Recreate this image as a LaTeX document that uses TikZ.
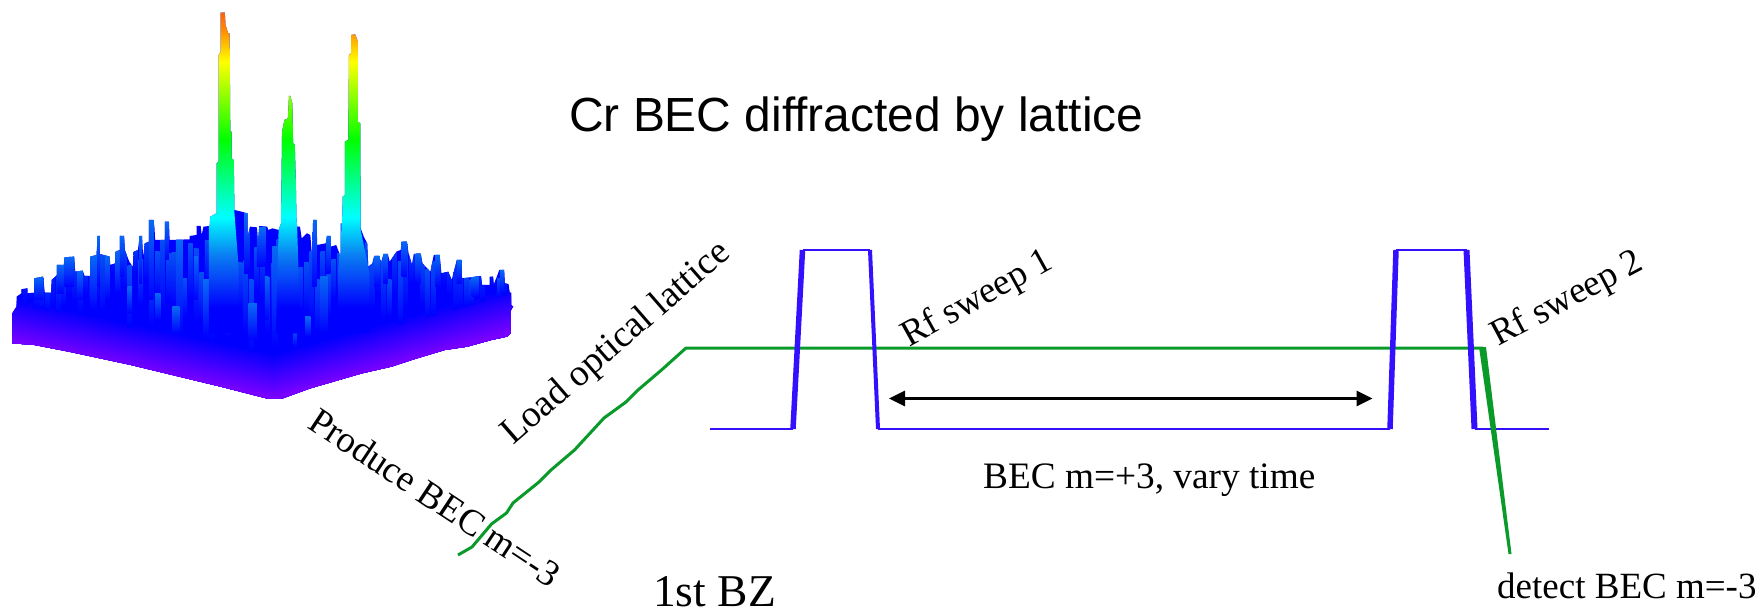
\documentclass[tikz,border=0pt]{standalone}
\usepackage{fontspec}
\setmainfont{Liberation Serif}
\newfontfamily\titlefont{Liberation Sans}
\usetikzlibrary{arrows.meta}

\definecolor{pulseblue}{HTML}{3311FF}
\definecolor{rampgreen}{HTML}{0A9A2A}
\definecolor{streakblue}{HTML}{0A7CF2}
\definecolor{midblue}{HTML}{0650F4}
\definecolor{edgepurple}{HTML}{8000FF}
\definecolor{springgreen}{HTML}{00FF96}
\definecolor{peakorange}{HTML}{FF9600}
\definecolor{tiporange}{HTML}{FF5A00}

\pgfdeclareverticalshading{peakmap}{100bp}{
  color(0bp)=(blue);
  color(29bp)=(blue);
  color(37bp)=(streakblue);
  color(43bp)=(cyan);
  color(48bp)=(springgreen);
  color(55bp)=(green);
  color(67bp)=(yellow);
  color(71.5bp)=(peakorange);
  color(75bp)=(tiporange);
  color(100bp)=(tiporange)}

\def\surfaceoutline{(36,1030) -- (36,940) -- (48,920) -- (48,890) -- (62,880) -- (62,868) -- (80,865) -- (80,880) -- (100,878) -- (100,835) -- (125,830) -- (130,878) -- (148,878) -- (150,840) -- (165,825) -- (165,795) -- (185,795) -- (187,772) -- (215,770) -- (218,815) -- (240,812) -- (245,828) -- (262,828) -- (262,770) -- (280,765) -- (283,708) -- (290,708) -- (290,762) -- (318,770) -- (320,795) -- (335,790) -- (335,755) -- (348,750) -- (348,708) -- (360,708) -- (362,750) -- (375,785) -- (385,800) -- (388,755) -- (400,750) -- (405,708) -- (412,708) -- (415,770) -- (420,730) -- (432,725) -- (432,660) -- (445,660) -- (448,682) -- (450,720) -- (478,720) -- (478,665) -- (490,665) -- (492,720) -- (550,718) -- (550,708) -- (570,705) -- (570,678) -- (582,678) -- (585,705) -- (590,680) -- (608,678) -- (610,650) -- (628,640) -- (628,490) -- (634,485) -- (634,165) -- (640,155) -- (640,38) -- (652,38) -- (654,75) -- (662,100) -- (666,100) -- (668,395) -- (672,395) -- (672,475) -- (678,480) -- (680,630) -- (700,635) -- (718,640) -- (718,710) -- (725,680) -- (745,682) -- (748,725) -- (752,678) -- (775,680) -- (778,690) -- (790,685) -- (808,690) -- (815,670) -- (818,395) -- (825,360) -- (835,355) -- (838,288) -- (842,288) -- (848,310) -- (850,430) -- (855,435) -- (858,545) -- (860,660) -- (862,680) -- (870,680) -- (875,715) -- (890,700) -- (900,705) -- (905,770) -- (908,660) -- (918,660) -- (920,735) -- (945,730) -- (948,708) -- (958,708) -- (960,740) -- (975,735) -- (988,770) -- (988,670) -- (992,670) -- (994,590) -- (1000,585) -- (1000,425) -- (1010,420) -- (1012,165) -- (1018,160) -- (1018,105) -- (1030,103) -- (1038,125) -- (1038,365) -- (1045,370) -- (1046,685) -- (1055,710) -- (1065,730) -- (1068,800) -- (1080,790) -- (1085,768) -- (1100,768) -- (1105,790) -- (1112,762) -- (1125,762) -- (1130,785) -- (1150,755) -- (1162,750) -- (1165,725) -- (1180,725) -- (1185,760) -- (1195,795) -- (1200,762) -- (1220,760) -- (1225,790) -- (1248,815) -- (1258,765) -- (1275,765) -- (1280,820) -- (1300,815) -- (1310,840) -- (1325,780) -- (1338,780) -- (1340,835) -- (1395,828) -- (1398,855) -- (1420,855) -- (1420,830) -- (1430,830) -- (1432,855) -- (1448,810) -- (1462,810) -- (1464,850) -- (1475,852) -- (1478,878) -- (1482,878) -- (1482,915) -- (1488,920) -- (1482,930) -- (1480,1000) -- (1470,1010) -- (1425,1020) -- (1355,1040) -- (1290,1050) -- (1200,1078) -- (1135,1100) -- (1050,1120) -- (900,1165) -- (815,1197) -- (780,1197) -- (640,1160) -- (520,1130) -- (380,1095) -- (200,1055) -- (100,1035) -- cycle}

\tikzset{
    pulse/.style={pulseblue, line width=2.5pt, line join=miter},
    pulseedge/.style={pulseblue, line width=5.5pt},
    ramp/.style={rampgreen, line width=3pt, line join=round},
    label/.style={inner sep=0pt, anchor=base west, font=\fontsize{37}{37}\selectfont}
}

\begin{document}
\begin{tikzpicture}[x=1pt,y=-1pt]
    \useasboundingbox (0,0) rectangle (1760,610);

    \begin{scope}[x=0.3448pt,y=-0.3333pt]
        \clip \surfaceoutline;
        \fill[blue] (0,0) rectangle (1600,1300);
        \foreach \d [evaluate=\d as \p using 100-\d/1.4] in {130,120,...,10} {
            \fill[edgepurple!\p!blue] (0,{1022-\d}) -- (795,{1197-\d}) -- (1600,{965-\d}) -- (1600,1300) -- (0,1300) -- cycle;
        }
        \pgfmathsetseed{42}
        \foreach \x in {50,66,...,1470} {
            \pgfmathsetmacro\t{700+140*rnd}
            \pgfmathsetmacro\b{min(\t+100+120*rnd,902+0.22*\x,1306-0.288*\x)}
            \shade[top color=midblue, bottom color=blue] (\x,\t) rectangle ({\x+13},\b);
        }
        \foreach \x/\w/\t/\b in {100/25/830/900, 165/20/795/880, 187/28/770/860, 225/15/812/900, 262/18/765/930, 283/7/708/860, 305/14/765/900, 335/13/755/880, 348/12/708/830, 370/12/860/940, 405/7/708/850, 432/13/660/900, 450/15/880/960, 478/12/665/780, 510/20/720/1000, 500/20/920/1000, 562/12/770/900, 590/20/840/1010, 655/15/920/1010, 708/16/640/820, 745/25/682/800, 720/25/910/1020, 768/10/830/960, 790/15/740/1040, 850/10/980/1040, 885/15/950/1010, 905/13/660/860, 930/20/830/1000, 945/13/708/820, 1015/15/930/1000, 1085/15/768/860, 1112/13/762/850, 1165/15/725/830, 1205/15/760/850, 1262/13/765/860, 1325/13/780/850, 1368/20/830/890, 1450/12/810/880} {
            \shade[top color=streakblue!85!blue, bottom color=blue] (\x,\t) rectangle ({\x+\w},\b);
        }
        \shade[shading=peakmap] (628,30) -- (680,30) -- (680,640) -- (692,800) -- (692,1000) -- (606,1000) -- (606,650) -- (628,640) -- cycle;
        \shade[shading=peakmap] (815,30) -- (862,30) -- (862,690) -- (872,1000) -- (800,1000) -- (808,690) -- cycle;
        \shade[shading=peakmap] (994,30) -- (1046,30) -- (1046,690) -- (1072,820) -- (1072,1000) -- (980,1000) -- (980,820) -- (990,690) -- cycle;
    \end{scope}

    \coordinate (rampstart) at (458,555);
    \coordinate (rampend) at (686,348);
    \coordinate (holdend) at (1483,348);
    \coordinate (detectend) at (1510,554);

    \coordinate (A) at (710,429);
    \coordinate (B) at (793,429);
    \coordinate (C) at (802.5,250);
    \coordinate (D) at (870,250);
    \coordinate (E) at (878,429);
    \coordinate (F) at (1390,429);
    \coordinate (G) at (1396,250);
    \coordinate (H) at (1466.5,250);
    \coordinate (I) at (1474.5,429);
    \coordinate (J) at (1549,429);

    \draw[ramp] (rampstart) -- (472,547) -- (491.5,524) -- (506.5,513) -- (513,503) -- (539,482) -- (551,470) -- (574.5,450) -- (604,418) -- (626,402) -- (638,390) -- (661.5,370) -- (rampend) -- (holdend);

    \draw[pulse] (A) -- (B) (C) -- (D) (E) -- (F) (G) -- (H) (I) -- (J);
    \draw[pulseedge] (B) -- (C);
    \draw[pulseedge, line width=4pt] (D) -- (E);
    \draw[pulseedge] (F) -- (G);
    \draw[pulseedge, line width=6pt] (H) -- (I);

    \fill[rampgreen] (1479,347) -- (1486,347) -- ([xshift=1.5pt]detectend) -- ([xshift=-1.5pt]detectend) -- cycle;

    \coordinate (vary1) at (889,398.5);
    \coordinate (vary2) at (1372.5,398.5);
    \draw[{Triangle[length=16pt,width=15pt]}-{Triangle[length=16pt,width=15pt]}, line width=3pt] (vary1) -- (vary2);

    \node[inner sep=0pt, anchor=base west, font=\titlefont\fontsize{47.9}{48}\selectfont] (title) at (569,131) {Cr BEC diffracted by lattice};
    \node[label, rotate=41, font=\fontsize{37.5}{37}\selectfont] (loadlabel) at (513,446) {Load optical lattice};
    \node[label, rotate=-33.5] (producelabel) at (306,427) {Produce BEC m=-3};
    \node[label, rotate=29] (sweeplabel1) at (909,348) {Rf sweep 1};
    \node[label, rotate=28] (sweeplabel2) at (1498,347) {Rf sweep 2};
    \node[label, font=\fontsize{37.3}{37}\selectfont] (varylabel) at (983,488) {BEC m=+3, vary time};
    \node[label, font=\fontsize{45.5}{45}\selectfont] (zonelabel) at (653,606) {1st BZ};
    \node[label] (detectlabel) at (1497,598) {detect BEC m=-3};
\end{tikzpicture}
\end{document}
